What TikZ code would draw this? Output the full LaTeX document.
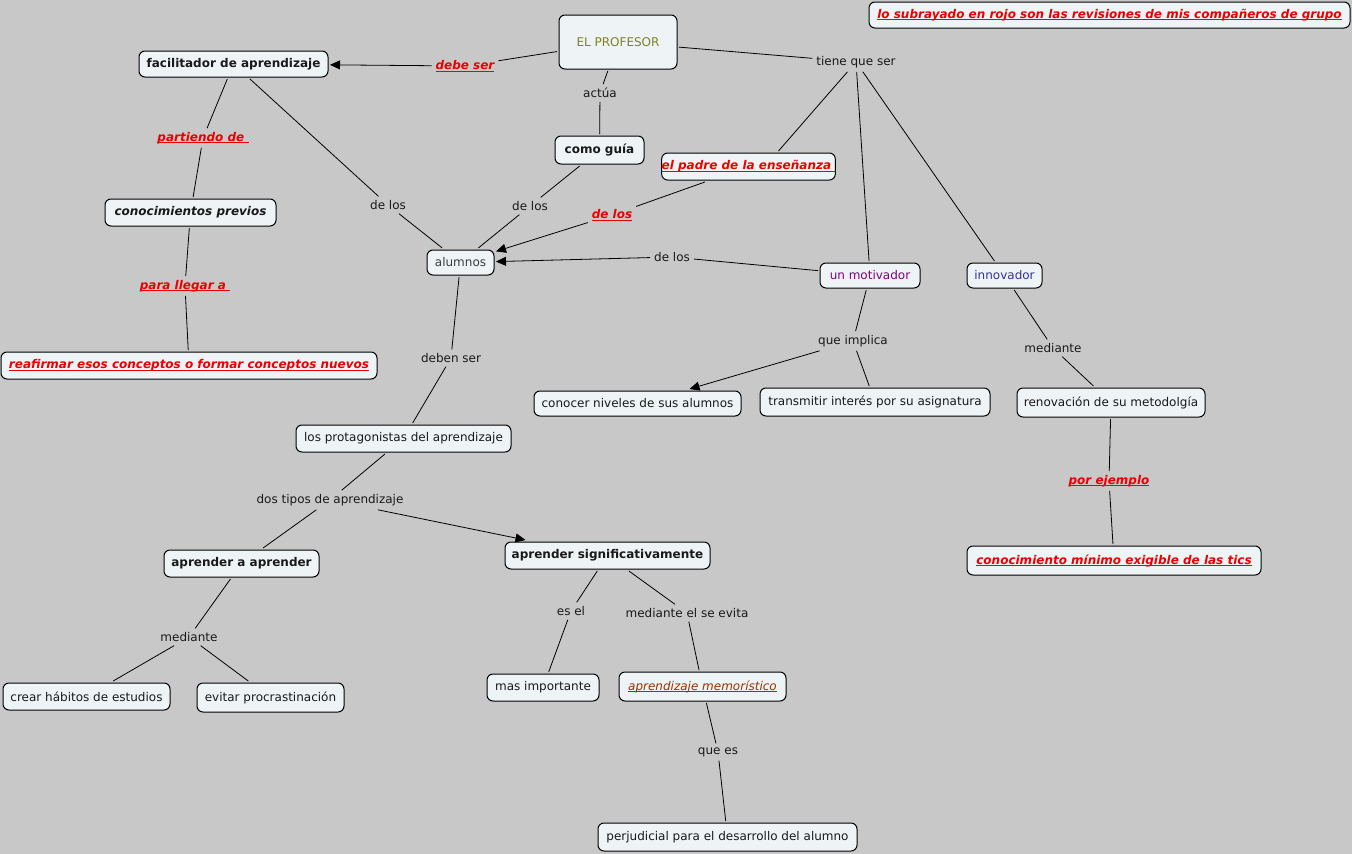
\documentclass[tikz,border=0pt]{standalone}
\usepackage{fontspec}
\setmainfont{DejaVu Sans}
\usetikzlibrary{arrows.meta,calc}
\definecolor{bg}{RGB}{200,200,200}
\definecolor{boxfill}{RGB}{238,243,245}
\definecolor{cred}{RGB}{235,0,0}
\definecolor{olivetx}{RGB}{128,128,40}
\definecolor{purp}{RGB}{128,0,128}
\definecolor{navytx}{RGB}{51,51,153}
\definecolor{brownish}{RGB}{153,51,0}
\definecolor{txt}{RGB}{25,25,25}
\definecolor{greytx}{RGB}{60,60,60}
\newcommand{\myul}[1]{\leavevmode\setbox0\hbox{#1}\rlap{\rule[-2pt]{\wd0}{0.9pt}}\box0}
\begin{document}
\begin{tikzpicture}[x=1pt,y=-1pt,
  concept/.style={draw=black, line width=1pt, rounded corners=6pt, fill=boxfill, inner sep=0pt, outer sep=2pt, text=txt, font=\fontsize{12}{14}\selectfont},
  bfconcept/.style={concept, font=\fontsize{12}{14}\selectfont\bfseries},
  redconcept/.style={concept, text=cred, font=\fontsize{12}{14}\selectfont\bfseries\itshape},
  lbl/.style={inner sep=3pt, outer sep=1pt, text=txt, font=\fontsize{12}{14}\selectfont},
  redlbl/.style={lbl, text=cred, font=\fontsize{12}{14}\selectfont\bfseries\itshape},
  conn/.style={line width=0.8pt, draw=black},
  arr/.style={conn, -{Triangle[length=10pt,width=9pt]}},
]
\fill[bg] (0,0) rectangle (1352,854);
\useasboundingbox (0,0) rectangle (1352,854);

% concepts
\node[concept, minimum width=118pt, minimum height=54pt, text=olivetx] (prof) at (618,42) {EL PROFESOR};
\node[bfconcept, minimum width=189pt, minimum height=26pt] (fac) at (233.5,64) {facilitador de aprendizaje};
\node[redconcept, minimum width=481pt, minimum height=26pt] (note) at (1109.5,15) {\myul{lo subrayado en rojo son las revisiones de mis compañeros de grupo}};
\node[bfconcept, minimum width=89pt, minimum height=28pt] (guia) at (599.5,150) {como guía};
\node[redconcept, minimum width=163pt, minimum height=27pt] (padre) at (748.5,166.5) {\myul{el padre de la enseñanza\ }};
\node[concept, minimum width=171pt, minimum height=27pt, font=\fontsize{12}{14}\selectfont\bfseries\itshape] (previos) at (190.5,212.5) {conocimientos previos};
\node[concept, minimum width=67pt, minimum height=25pt, text=greytx] (alum) at (460.5,262.5) {alumnos};
\node[concept, minimum width=100pt, minimum height=25pt, text=purp] (motiv) at (870,275.5) {un motivador};
\node[concept, minimum width=75pt, minimum height=25pt, text=navytx] (innov) at (1004.5,275.5) {innovador};
\node[redconcept, minimum width=376pt, minimum height=27pt] (reaf) at (189,365.5) {\myul{reafirmar esos conceptos o formar conceptos nuevos}};
\node[concept, minimum width=207pt, minimum height=25pt] (conocer) at (637.5,403.5) {conocer niveles de sus alumnos};
\node[concept, minimum width=230pt, minimum height=28pt] (transm) at (875,402) {transmitir interés por su asignatura};
\node[concept, minimum width=188pt, minimum height=29pt] (renov) at (1111,402.5) {renovación de su metodolgía};
\node[concept, minimum width=215pt, minimum height=27pt] (prot) at (403.5,438.5) {los protagonistas del aprendizaje};
\node[bfconcept, minimum width=155pt, minimum height=27pt] (aaa) at (241.5,563.5) {aprender a aprender};
\node[bfconcept, minimum width=205pt, minimum height=27pt] (asig) at (607.5,555.5) {aprender significativamente};
\node[redconcept, minimum width=294pt, minimum height=29pt] (tics) at (1114,560.5) {\myul{conocimiento mínimo exigible de las tics}};
\node[concept, minimum width=167pt, minimum height=27pt] (crear) at (86.5,696.5) {crear hábitos de estudios};
\node[concept, minimum width=147pt, minimum height=29pt] (evitar) at (270.5,697.5) {evitar procrastinación};
\node[concept, minimum width=112pt, minimum height=27pt] (masimp) at (543,687.5) {mas importante};
\node[concept, minimum width=167pt, minimum height=29pt, text=brownish, font=\fontsize{12}{14}\selectfont\itshape] (memo) at (702.5,686.5) {\myul{aprendizaje memorístico}};
\node[concept, minimum width=259pt, minimum height=28pt] (perj) at (727.5,837) {perjudicial para el desarrollo del alumno};

% linking phrases
\node[redlbl] (ldebe) at (465,66) {\myul{debe ser}};
\node[lbl] (lactua) at (600,93) {actúa};
\node[lbl] (ltiene) at (856,62) {tiene que ser};
\node[redlbl] (lpart) at (203,138) {\myul{partiendo de\ }};
\node[lbl] (ldelosa) at (388,205) {de los};
\node[lbl] (ldelosb) at (530,206) {de los};
\node[redlbl] (ldelosc) at (612,215) {\myul{de los}};
\node[lbl] (ldelosd) at (672,257) {de los};
\node[redlbl] (lllegar) at (185,286) {\myul{para llegar a\ }};
\node[lbl] (ldeben) at (451,358) {deben ser};
\node[lbl] (limpl) at (853,341) {que implica};
\node[lbl] (lmeda) at (1053,348) {mediante};
\node[redlbl] (lejem) at (1109,481) {\myul{por ejemplo}};
\node[lbl] (ldos) at (330,500) {dos tipos de aprendizaje};
\node[lbl] (lesel) at (571,611) {es el};
\node[lbl] (levita) at (687,613) {mediante el se evita};
\node[lbl] (lmedb) at (189,637) {mediante};
\node[lbl] (lquees) at (718,752) {que es};

% connectors
\draw[conn] (prof) -- (ldebe);
\draw[arr] (ldebe) -- (fac);
\draw[conn] (prof) -- (lactua);
\draw[conn] (lactua) -- (guia);
\draw[conn] (prof) -- (ltiene);
\draw[conn] (ltiene) -- ($(padre.north)+(30,0)$);
\draw[conn] (ltiene) -- (motiv);
\draw[conn] (ltiene) -- (innov);
\draw[conn] (fac) -- (lpart);
\draw[conn] (lpart) -- (previos);
\draw[conn] (fac) -- (ldelosa);
\draw[conn] (ldelosa) -- (alum);
\draw[conn] (guia) -- (ldelosb);
\draw[conn] (ldelosb) -- (alum);
\draw[conn] (padre) -- (ldelosc);
\draw[arr] (ldelosc) -- (alum);
\draw[conn] (motiv) -- (ldelosd);
\draw[arr] (ldelosd) -- (alum);
\draw[conn] (previos) -- (lllegar);
\draw[conn] (lllegar) -- (reaf);
\draw[conn] (alum) -- (ldeben);
\draw[conn] (ldeben) -- (prot);
\draw[conn] (prot) -- (ldos);
\draw[conn] (ldos) -- (aaa);
\draw[arr] (ldos) -- ($(asig.north)+(-82,0)$);
\draw[conn] (motiv) -- (limpl);
\draw[arr] (limpl) -- ($(conocer.north)+(52,0)$);
\draw[conn] (limpl) -- (transm);
\draw[conn] (innov) -- (lmeda);
\draw[conn] (lmeda) -- (renov);
\draw[conn] (renov) -- (lejem);
\draw[conn] (lejem) -- (tics);
\draw[conn] (aaa) -- (lmedb);
\draw[conn] (lmedb) -- (crear);
\draw[conn] (lmedb) -- (evitar);
\draw[conn] (asig) -- (lesel);
\draw[conn] (lesel) -- (masimp);
\draw[conn] (asig) -- (levita);
\draw[conn] (levita) -- (memo);
\draw[conn] (memo) -- (lquees);
\draw[conn] (lquees) -- (perj);
\end{tikzpicture}
\end{document}
